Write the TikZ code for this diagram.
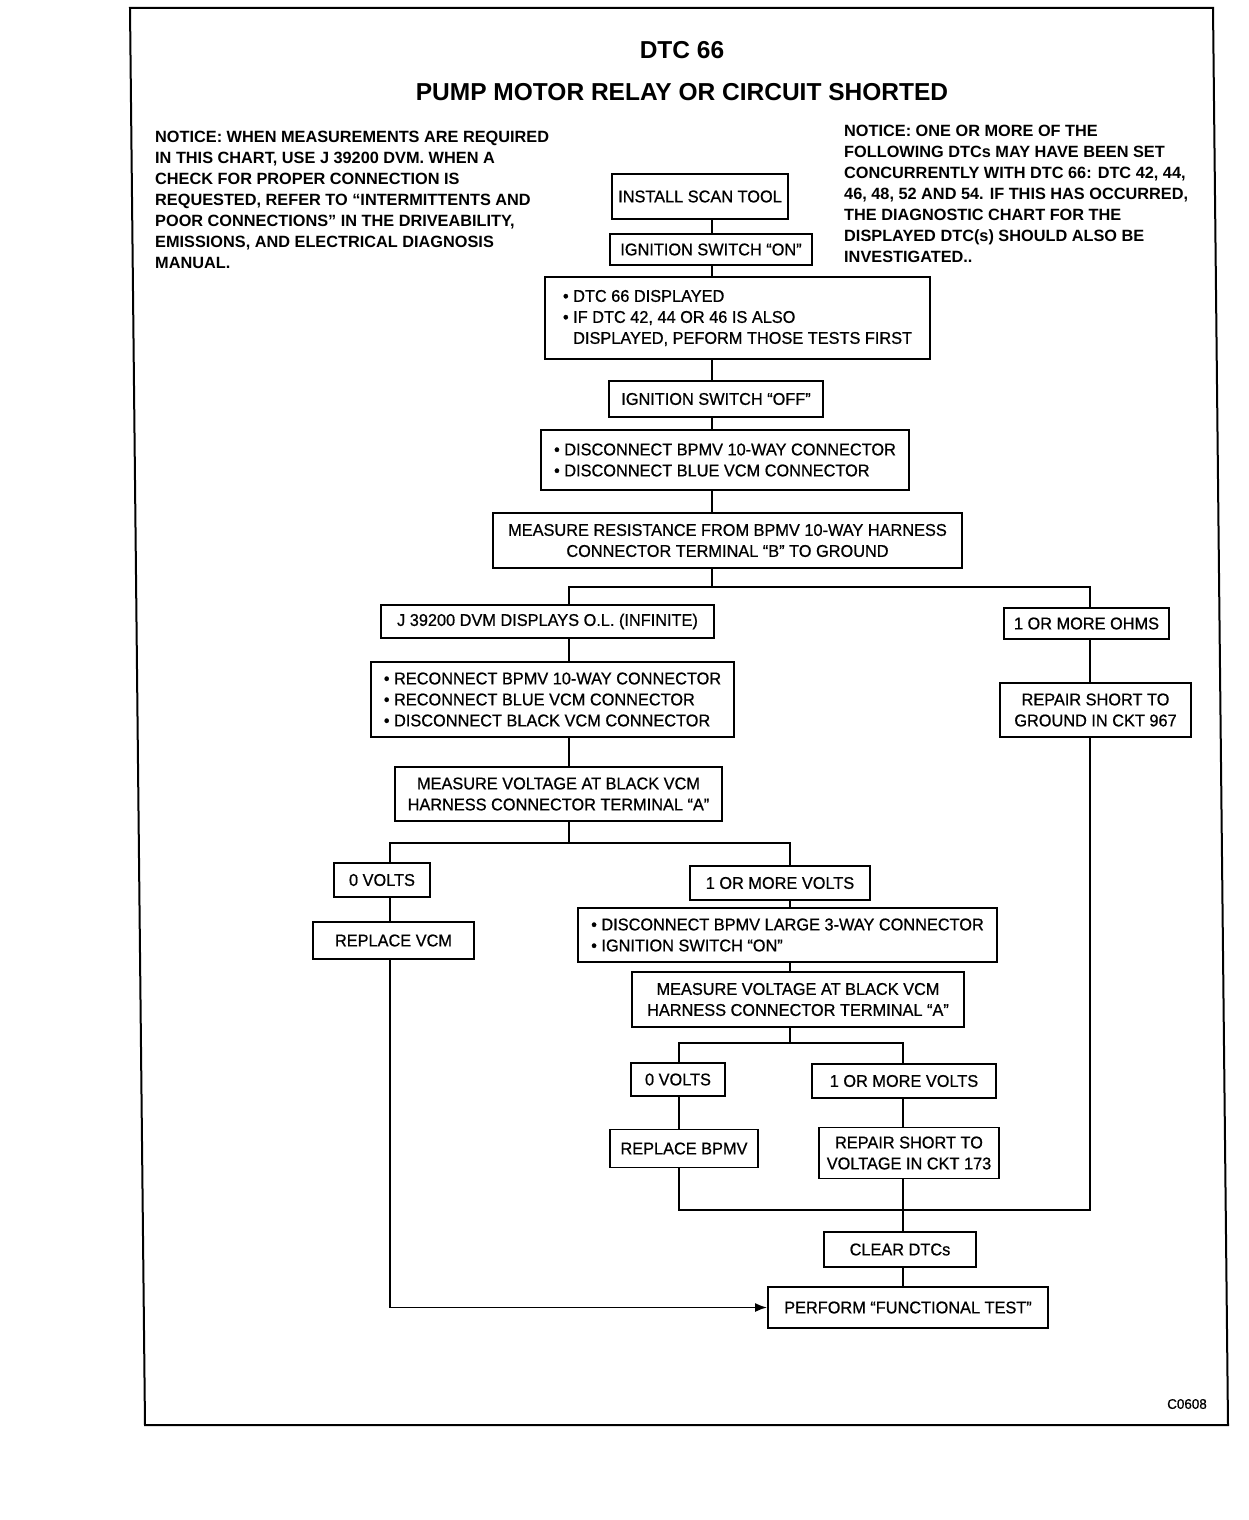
\documentclass[tikz,border=0pt]{standalone}
\usepackage{fontspec}
\setmainfont{Liberation Sans}
\newfontfamily\chartfont{Liberation Sans}[FakeStretch=0.96,FakeBold=0.7]
\newfontfamily\noticefont{Liberation Sans}
\usetikzlibrary{arrows.meta}
\tikzset{
  stepbox/.style={draw, line width=1.8pt, align=center, inner sep=2pt, font=\chartfont\fontsize{17}{21}\selectfont},
  listbox/.style={stepbox, align=left},
  wire/.style={line width=1.8pt},
  wirearr/.style={wire, -{Latex[length=12pt,width=9pt]}},
  notice/.style={align=left, anchor=north west, inner sep=0pt, font=\noticefont\bfseries\fontsize{16.3}{21}\selectfont},
  headline/.style={inner sep=0pt, font=\bfseries\fontsize{24.5}{28}\selectfont}
}
\begin{document}
\begin{tikzpicture}[x=1pt,y=-1pt]
  \useasboundingbox (0,0) rectangle (1248,1520);
  \draw[line width=2pt] (130,8) -- (1213,8) -- (1228,1425) -- (145,1425) -- cycle;
  \node[headline] (title) at (682,50) {DTC 66};
  \node[headline] (subtitle) at (682,92) {PUMP MOTOR RELAY OR CIRCUIT SHORTED};
  \node[notice] (noteL) at (155,131) {NOTICE: WHEN MEASUREMENTS ARE REQUIRED\\IN THIS CHART, USE J 39200 DVM. WHEN A\\CHECK FOR PROPER CONNECTION IS\\REQUESTED, REFER TO “INTERMITTENTS AND\\POOR CONNECTIONS” IN THE DRIVEABILITY,\\EMISSIONS, AND ELECTRICAL DIAGNOSIS\\MANUAL.};
  \node[notice] (noteR) at (844,125) {NOTICE: ONE OR MORE OF THE\\FOLLOWING DTCs MAY HAVE BEEN SET\\CONCURRENTLY WITH DTC 66: DTC 42, 44,\\46, 48, 52 AND 54. IF THIS HAS OCCURRED,\\THE DIAGNOSTIC CHART FOR THE\\DISPLAYED DTC(s) SHOULD ALSO BE\\INVESTIGATED..};
  \node[stepbox, minimum width=176, minimum height=45] (scan) at (700,196.5) {INSTALL SCAN TOOL};
  \node[stepbox, minimum width=202, minimum height=31] (ignon) at (711,249.5) {IGNITION SWITCH “ON”};
  \node[listbox, minimum width=385, minimum height=82] (shown) at (737.5,318) {\textbullet\ DTC 66 DISPLAYED\\\textbullet\ IF DTC 42, 44 OR 46 IS ALSO\\\phantom{\textbullet\ }DISPLAYED, PEFORM THOSE TESTS FIRST};
  \node[stepbox, minimum width=214, minimum height=36] (ignoff) at (716,399) {IGNITION SWITCH “OFF”};
  \node[listbox, minimum width=368, minimum height=60] (discon) at (725,460) {\textbullet\ DISCONNECT BPMV 10-WAY CONNECTOR\\\textbullet\ DISCONNECT BLUE VCM CONNECTOR};
  \node[stepbox, minimum width=469, minimum height=55] (res) at (727.5,540.5) {MEASURE RESISTANCE FROM BPMV 10-WAY HARNESS\\CONNECTOR TERMINAL “B” TO GROUND};
  \node[stepbox, minimum width=333, minimum height=33] (jdvm) at (547.5,621.5) {J 39200 DVM DISPLAYS O.L. (INFINITE)};
  \node[stepbox, minimum width=165, minimum height=31] (ohms) at (1086.5,623.5) {1 OR MORE OHMS};
  \node[listbox, minimum width=363, minimum height=75] (recon) at (552.5,699.5) {\textbullet\ RECONNECT BPMV 10-WAY CONNECTOR\\\textbullet\ RECONNECT BLUE VCM CONNECTOR\\\textbullet\ DISCONNECT BLACK VCM CONNECTOR};
  \node[stepbox, minimum width=191, minimum height=54] (rgnd) at (1095.5,710) {REPAIR SHORT TO\\GROUND IN CKT 967};
  \node[stepbox, minimum width=327, minimum height=54] (volt1) at (558.5,794) {MEASURE VOLTAGE AT BLACK VCM\\HARNESS CONNECTOR TERMINAL “A”};
  \node[stepbox, minimum width=96, minimum height=34] (zero1) at (382,880) {0 VOLTS};
  \node[stepbox, minimum width=161, minimum height=37] (vcm) at (393.5,940.5) {REPLACE VCM};
  \node[stepbox, minimum width=180, minimum height=34] (more1) at (780,883) {1 OR MORE VOLTS};
  \node[listbox, minimum width=419, minimum height=54] (large) at (787.5,935) {\textbullet\ DISCONNECT BPMV LARGE 3-WAY CONNECTOR\\\textbullet\ IGNITION SWITCH “ON”};
  \node[stepbox, minimum width=332, minimum height=55] (volt2) at (798,999.5) {MEASURE VOLTAGE AT BLACK VCM\\HARNESS CONNECTOR TERMINAL “A”};
  \node[stepbox, minimum width=94, minimum height=33] (zero2) at (678,1079.5) {0 VOLTS};
  \node[stepbox, minimum width=184, minimum height=34] (more2) at (904,1081) {1 OR MORE VOLTS};
  \node[stepbox, minimum width=148, minimum height=38] (bpmv) at (684,1148.5) {REPLACE BPMV};
  \node[stepbox, minimum width=180, minimum height=51] (rvolt) at (909,1153) {REPAIR SHORT TO\\VOLTAGE IN CKT 173};
  \node[stepbox, minimum width=152, minimum height=35] (clear) at (900,1249.5) {CLEAR DTCs};
  \node[stepbox, minimum width=280, minimum height=41] (func) at (908,1307.5) {PERFORM “FUNCTIONAL TEST”};
  \node[inner sep=0pt, font=\chartfont\fontsize{14}{16}\selectfont] (code) at (1187,1404) {C0608};
  \coordinate (tk) at (712,0);
  \coordinate (a1) at (569,587);
  \coordinate (a2) at (1090,587);
  \coordinate (b1) at (390,843);
  \coordinate (b2) at (790,843);
  \coordinate (c1) at (679,1043);
  \coordinate (c2) at (903,1043);
  \coordinate (m1) at (679,1210);
  \coordinate (m2) at (1090,1210);
  \foreach \a/\b in {scan/ignon,ignon/shown,shown/ignoff,ignoff/discon,discon/res}
    \draw[wire] (\a.south -| tk) -- (\b.north -| tk);
  \draw[wire] (res.south -| tk) -- (tk |- a1);
  \draw[wire] (jdvm.north -| a1) -- (a1) -- (a2) -- (ohms.north -| a2);
  \draw[wire] (jdvm.south -| a1) -- (recon.north -| a1);
  \draw[wire] (recon.south -| a1) -- (volt1.north -| a1);
  \draw[wire] (volt1.south -| a1) -- (a1 |- b1);
  \draw[wire] (ohms.south -| a2) -- (rgnd.north -| a2);
  \draw[wire] (zero1.north -| b1) -- (b1) -- (b2) -- (more1.north -| b2);
  \draw[wire] (zero1.south -| b1) -- (vcm.north -| b1);
  \draw[wire] (more1.south -| b2) -- (large.north -| b2);
  \draw[wire] (large.south -| b2) -- (volt2.north -| b2);
  \draw[wire] (volt2.south -| b2) -- (b2 |- c1);
  \draw[wire] (zero2.north -| c1) -- (c1) -- (c2) -- (more2.north -| c2);
  \draw[wire] (zero2.south -| c1) -- (bpmv.north -| c1);
  \draw[wire] (more2.south -| c2) -- (rvolt.north -| c2);
  \draw[wire] (bpmv.south -| m1) -- (m1) -- (m2) -- (rgnd.south -| m2);
  \draw[wire] (rvolt.south -| c2) -- (clear.north -| c2);
  \draw[wire] (clear.south -| c2) -- (func.north -| c2);
  \draw[wirearr] (vcm.south -| b1) |- (func.west);
\end{tikzpicture}
\end{document}
